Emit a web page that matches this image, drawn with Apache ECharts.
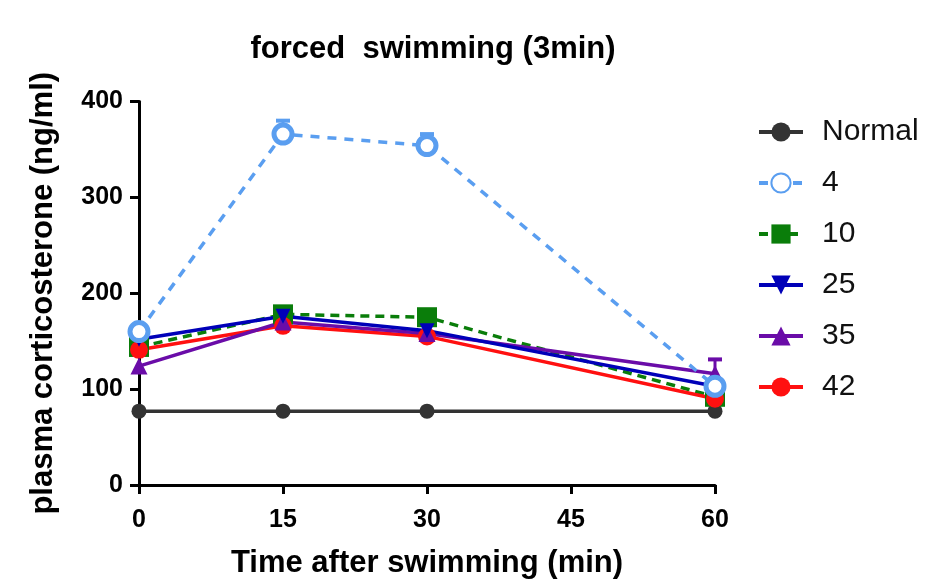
<!DOCTYPE html>
<html>
<head>
<meta charset="utf-8">
<script src="https://cdn.jsdelivr.net/npm/echarts@6/dist/echarts.min.js"></script>
<style>html,body{margin:0;padding:0;background:#fff}#c{width:947px;height:584px}</style>
</head>
<body>
<div id="c"></div>
<script>
const times = [0, 15, 30, 60];
const normal = [77, 77, 77, 77];
const g4 = [160, 366, 354, 103];
const g10 = [144, 178, 175, 92];
const g25 = [152, 176, 161, 103];
const g35 = [124, 170, 158, 116];
const g42 = [141, 166, 155, 90];
const err4 = [0, 14, 12, 0];
const err35 = [0, 0, 0, 15];
const xTicks = [0, 15, 30, 45, 60];
const yTicks = [0, 100, 200, 300, 400];

const FONT = "'Liberation Sans', Arial, sans-serif";

function pairs(vals) { return times.map((t, i) => [t, vals[i]]); }

function errSeries(vals, errs, color) {
  const data = times.map((t, i) => [t, vals[i], errs[i]]).filter(d => d[2] > 0);
  return {
    type: 'custom',
    z: 1,
    silent: true,
    legendHoverLink: false,
    renderItem: function (params, api) {
      const p0 = api.coord([api.value(0), api.value(1)]);
      const p1 = api.coord([api.value(0), api.value(1) + api.value(2)]);
      return {
        type: 'group',
        children: [
          { type: 'line', shape: { x1: p0[0], y1: p0[1], x2: p1[0], y2: p1[1] }, style: { stroke: color, lineWidth: 3 } },
          { type: 'line', shape: { x1: p1[0] - 7, y1: p1[1], x2: p1[0] + 7, y2: p1[1] }, style: { stroke: color, lineWidth: 4 } }
        ]
      };
    },
    data: data
  };
}

function lineSeries(name, vals, color, symbol, size, dash, extra) {
  return Object.assign({
    name: name,
    type: 'line',
    data: pairs(vals),
    symbol: symbol,
    symbolSize: size,
    lineStyle: { color: color, width: 3.5, type: dash },
    itemStyle: { color: color },
    z: 3
  }, extra || {});
}

const option = {
  animation: false,
  title: {
    text: 'forced  swimming (3min)',
    left: 428, top: 29, textAlign: 'center',
    textStyle: { fontFamily: FONT, fontWeight: 'bold', fontSize: 31, color: '#000' }
  },
  grid: { left: 139, right: 232, top: 101.5, bottom: 98 },
  legend: {
    orient: 'vertical',
    left: 752, top: 112,
    itemWidth: 44, itemHeight: 24,
    itemGap: 21,
    lineStyle: { width: 4 },
    textStyle: { fontFamily: FONT, fontSize: 30, lineHeight: 30, color: '#111', padding: [0, 0, 0, 14] },
    data: ['Normal', '4', '10', '25', '35', '42']
  },
  xAxis: {
    type: 'value', min: 0, max: 60, interval: 15,
    axisLine: { show: true, lineStyle: { color: '#000', width: 3 } },
    axisTick: { show: true, length: 9, lineStyle: { color: '#000', width: 3 } },
    axisLabel: { fontFamily: FONT, fontWeight: 'bold', fontSize: 25, color: '#000', margin: 23 },
    splitLine: { show: false },
    name: 'Time after swimming (min)', nameLocation: 'middle', nameGap: 63,
    nameTextStyle: { fontFamily: FONT, fontWeight: 'bold', fontSize: 31, color: '#000' }
  },
  yAxis: {
    type: 'value', min: 0, max: 400, interval: 100,
    axisLine: { show: true, lineStyle: { color: '#000', width: 3 } },
    axisTick: { show: true, length: 9, lineStyle: { color: '#000', width: 3 } },
    axisLabel: { fontFamily: FONT, fontWeight: 'bold', fontSize: 25, color: '#000', margin: 16 },
    splitLine: { show: false },
    name: 'plasma corticosterone (ng/ml)', nameLocation: 'middle', nameGap: 80,
    nameTextStyle: { fontFamily: FONT, fontWeight: 'bold', fontSize: 31, color: '#000' }
  },
  series: [
    lineSeries('Normal', normal, '#333333', 'circle', 15, 'solid'),
    lineSeries('10', g10, '#0a7d0a', 'rect', 20, [9, 6]),
    lineSeries('42', g42, '#ff1010', 'circle', 18, 'solid'),
    lineSeries('35', g35, '#6a0ca8', 'triangle', 17, 'solid'),
    lineSeries('25', g25, '#0000b8', 'triangle', 15, 'solid', { symbolRotate: 180 }),
    lineSeries('4', g4, '#5a9ef0', 'circle', 18, [9, 8], { itemStyle: { color: '#fff', borderColor: '#5a9ef0', borderWidth: 5 }, z: 4 }),
    errSeries(g4, err4, '#5a9ef0'),
    errSeries(g35, err35, '#6a0ca8')
  ]
};

echarts.init(document.getElementById('c')).setOption(option);
</script>
</body>
</html>
